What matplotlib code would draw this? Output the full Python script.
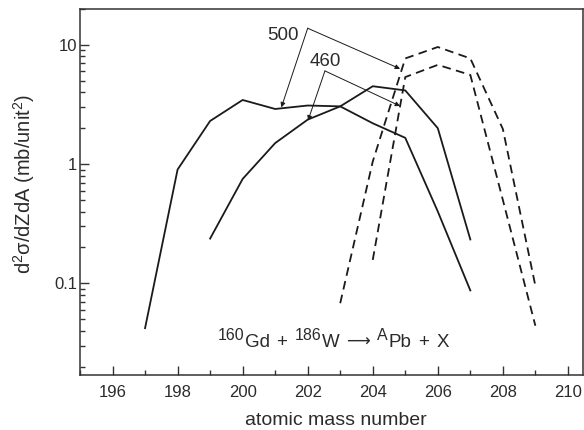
import numpy as np
import matplotlib
matplotlib.use('Agg')
import matplotlib.pyplot as plt

plt.rcParams['font.family'] = ['Liberation Sans', 'DejaVu Sans']
plt.rcParams['mathtext.fontset'] = 'custom'
plt.rcParams['mathtext.rm'] = 'Liberation Sans'
plt.rcParams['mathtext.it'] = 'Liberation Sans:italic'

# Data (atomic mass number vs cross section, mb/unit^2)
a_solid_500 = [197, 198, 199, 200, 201, 202, 203, 204, 205, 206, 207]
y_solid_500 = [0.042, 0.9, 2.3, 3.45, 2.9, 3.1, 3.05, 2.2, 1.66, 0.4, 0.087]

a_solid_460 = [199, 200, 201, 202, 203, 204, 205, 206, 207]
y_solid_460 = [0.237, 0.75, 1.5, 2.36, 3.05, 4.5, 4.15, 2.0, 0.233]

a_dash_500 = [203, 204, 205, 206, 207, 208, 209]
y_dash_500 = [0.068, 1.05, 7.7, 9.6, 7.7, 1.97, 0.095]

a_dash_460 = [204, 205, 206, 207, 208, 209]
y_dash_460 = [0.157, 5.37, 6.8, 5.6, 0.5, 0.044]

# annotation anchors (data coords)
apex_500, label_500 = (202.0, 13.8), (201.25, 12.1)
targets_500 = [(201.19, 2.99), (204.84, 6.3)]
apex_460, label_460 = (202.53, 6.05), (202.53, 7.25)
targets_460 = [(202.01, 2.32), (204.84, 3.07)]

# reaction label pieces: (text, kind), None = word space
reaction = [('160', 'sup'), ('Gd', 'main'), None, ('+', 'main'), None,
            ('186', 'sup'), ('W', 'main'), None, ('\u27f6', 'arrow'), None,
            ('A', 'sup'), ('Pb', 'main'), None, ('+', 'main'), None,
            ('X', 'main')]

W, H = 584, 430
fig = plt.figure(figsize=(W / 100, H / 100), dpi=100)
ax = fig.add_axes([0.137, 0.128, 0.8605, 0.851])

lc = '#1a1a1a'
tc = '#2b2b2b'
ax.plot(a_solid_500, y_solid_500, color=lc, lw=1.3)
ax.plot(a_solid_460, y_solid_460, color=lc, lw=1.3)
ax.plot(a_dash_500, y_dash_500, color=lc, lw=1.3, dashes=(4.8, 3))
ax.plot(a_dash_460, y_dash_460, color=lc, lw=1.3, dashes=(4.8, 3))

arrow = dict(arrowstyle='-|>', lw=0.7, color=lc, mutation_scale=7,
             shrinkA=0, shrinkB=0)
for t in targets_500:
    ax.annotate('', xy=t, xytext=apex_500, arrowprops=arrow)
for t in targets_460:
    ax.annotate('', xy=t, xytext=apex_460, arrowprops=arrow)
ax.text(*label_500, '500', fontsize=13.5, ha='center', va='center', color=tc)
ax.text(*label_460, '460', fontsize=13.5, ha='center', va='center', color=tc)

ax.set_yscale('log')
ax.set_xlim(195, 210.45)
ax.set_ylim(0.017, 20)
ax.set_xticks(np.arange(196, 211, 2))
ax.set_xticks(np.arange(195, 211, 1), minor=True)
ax.set_yticks([0.1, 1, 10])
ax.set_yticklabels(['0.1', '1', '10'])

ax.tick_params(which='both', direction='in', top=False, right=False,
               color='#333333', labelcolor=tc, labelsize=12)
ax.tick_params(which='major', length=6.5, width=1.0)
ax.tick_params(which='minor', length=3.5, width=1.0)
ax.tick_params(axis='x', which='major', pad=7.5)
ax.tick_params(axis='y', which='major', pad=2.2)
for s in ax.spines.values():
    s.set_linewidth(1.1)
    s.set_color('#333333')

ax.set_xlabel('atomic mass number', fontsize=14, color=tc, va='baseline')
ax.xaxis.set_label_coords(0.51, -0.137)
ax.set_ylabel(r'd$^2$σ/dZdA (mb/unit$^2$)', fontsize=14.5, color=tc)
ax.yaxis.set_label_coords(-0.086, 0.523)

# reaction label, laid out piece by piece so superscripts stay large
renderer = fig.canvas.get_renderer()
sizes = {'main': 13.5, 'sup': 11.5, 'arrow': 12}
raise_px = {'main': 0.0, 'sup': 7.0, 'arrow': 0.0}
space = 6.0
baseline = H - 347
x = 0.0
texts = []
for piece in reaction:
    if piece is None:
        x += space
        continue
    s, kind = piece
    t = fig.text(x / W, (baseline + raise_px[kind]) / H, s,
                 fontsize=sizes[kind], va='baseline', ha='left', color=tc)
    texts.append(t)
    x += t.get_window_extent(renderer).width + (0.5 if kind == 'sup' else 1.0)
shift = 333.5 - x / 2
for t in texts:
    px, py = t.get_position()
    t.set_position(((px * W + shift) / W, py))

fig.savefig('out.png', dpi=100)
